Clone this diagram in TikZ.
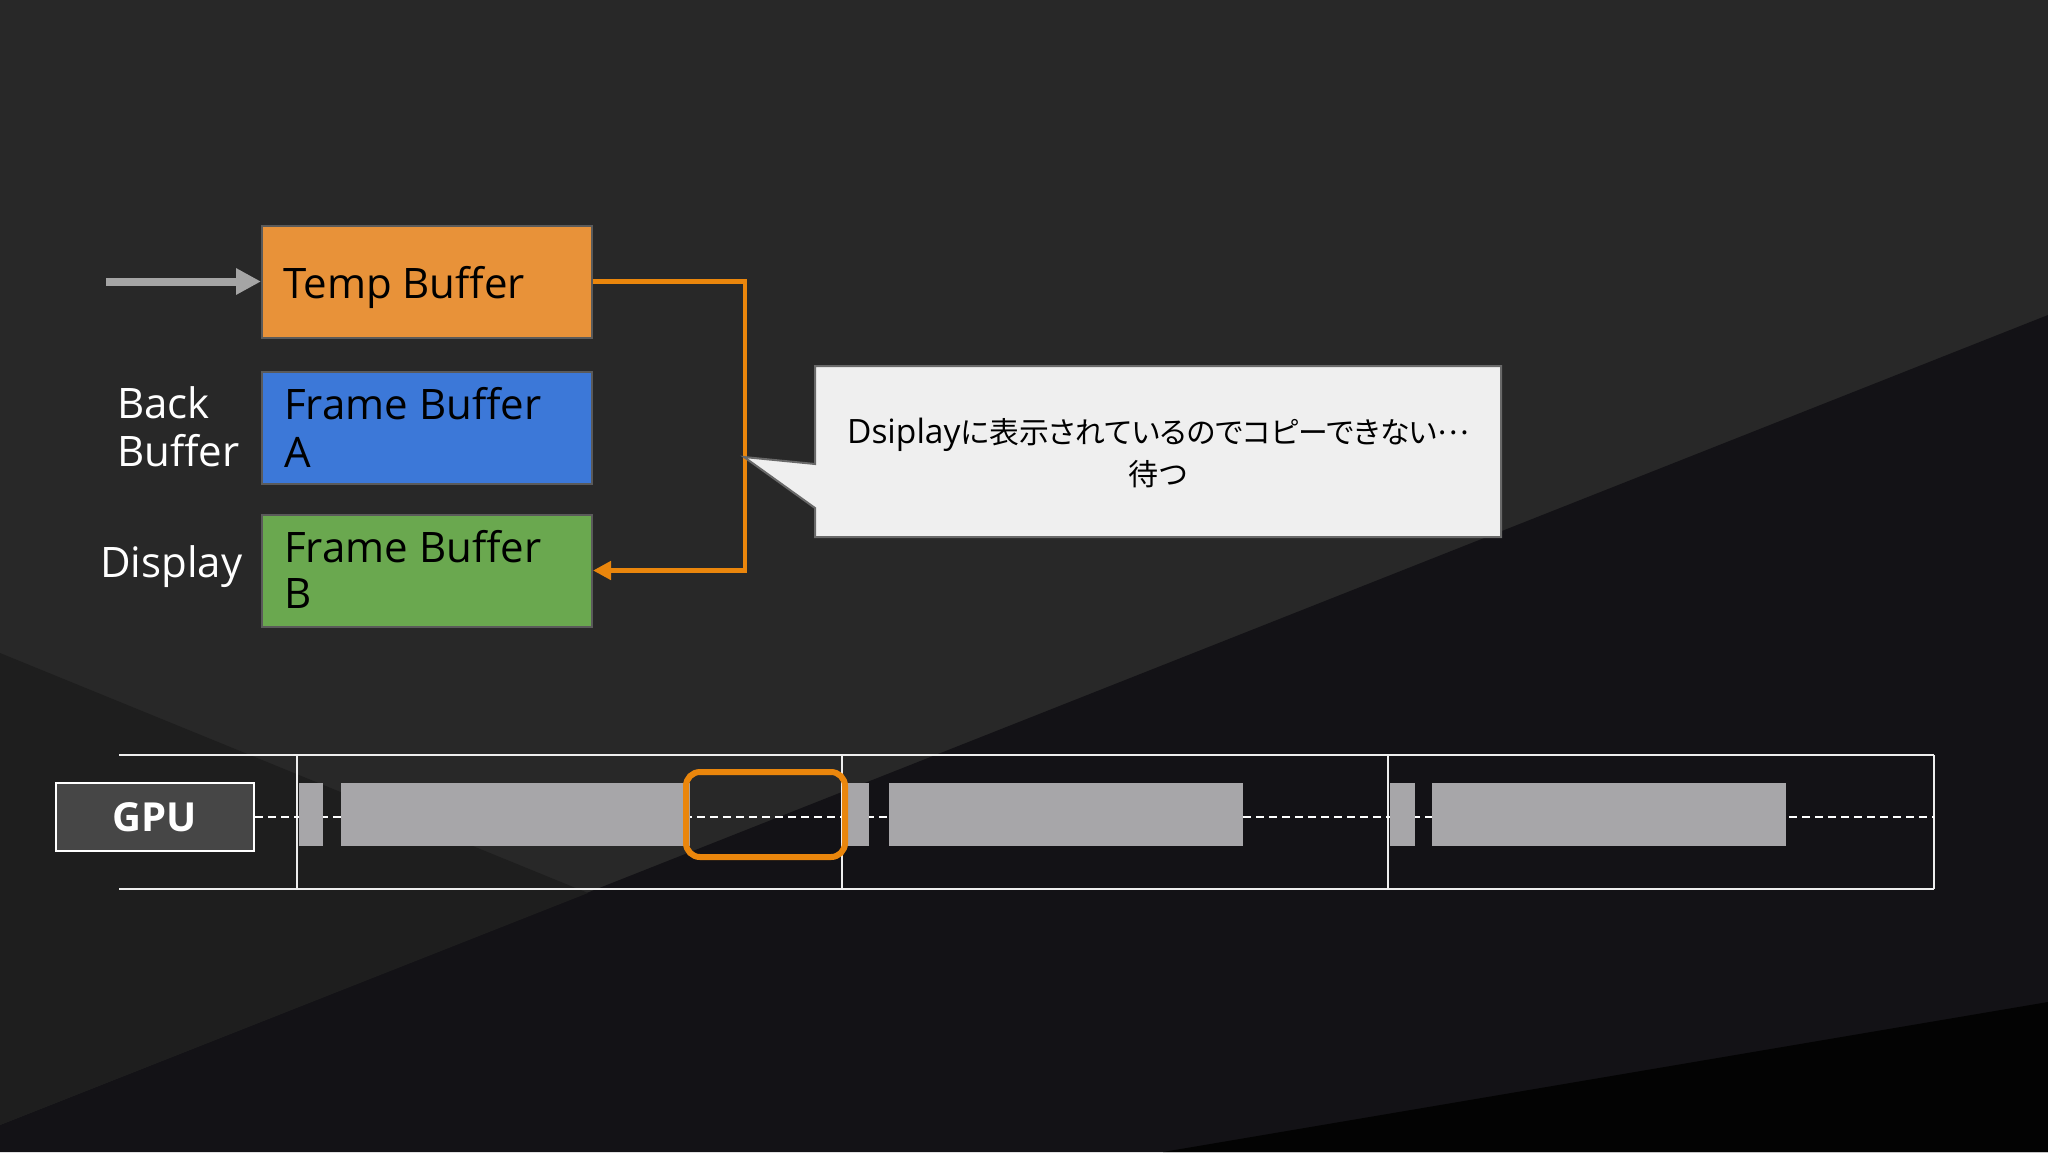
\documentclass[tikz,border=0pt]{standalone}
\usepackage{fontspec}
\setmainfont{Open Sans}
\newfontfamily\jpfont[RawFeature=+palt]{Noto Sans CJK JP}
\usetikzlibrary{arrows.meta}
\definecolor{bgtop}{RGB}{40,40,40}
\definecolor{bgleft}{RGB}{30,30,30}
\definecolor{bgdark}{RGB}{19,18,22}
\definecolor{bgblack}{RGB}{3,3,3}
\definecolor{ctemp}{RGB}{232,146,57}
\definecolor{cblue}{RGB}{60,120,216}
\definecolor{cgreen}{RGB}{106,168,79}
\definecolor{boxborder}{RGB}{90,90,90}
\definecolor{corange}{RGB}{234,134,12}
\definecolor{carrow}{RGB}{165,165,165}
\definecolor{cnote}{RGB}{239,239,239}
\definecolor{cnoteborder}{RGB}{105,105,105}
\definecolor{cblock}{RGB}{167,166,169}
\definecolor{cgpu}{RGB}{70,70,70}
\definecolor{cline}{RGB}{238,238,238}
\tikzset{
  bufbox/.style={draw=boxborder, line width=2pt, minimum width=330pt, minimum height=112pt, inner sep=0pt},
  btxt/.style={anchor=base west, inner sep=0pt, text=black, font=\fontsize{42}{48}\selectfont},
  wtxt/.style={anchor=base west, inner sep=0pt, text=white, font=\fontsize{42}{48}\selectfont},
  tline/.style={cline, line width=2.5pt},
  vline/.style={cline, line width=1.5pt},
  gblock/.style={fill=cblock},
}
\begin{document}
\begin{tikzpicture}[x=1pt,y=-1pt]
\useasboundingbox (0,0) rectangle (2048,1152);
% background
\fill[bgtop] (0,0) rectangle (2048,1152);
\fill[bgdark] (2048,315) -- (2048,1152) -- (0,1152) -- (0,1125) -- cycle;
\fill[bgleft] (0,653) -- (588,893) -- (0,1125) -- cycle;
\fill[bgblack] (2048,1002) -- (2048,1152) -- (1163,1152) -- cycle;

% buffers
\node[bufbox, fill=ctemp] (temp) at (427,281.5) {};
\node[bufbox, fill=cblue] (fba) at (427,428) {};
\node[bufbox, fill=cgreen] (fbb) at (427,570.5) {};
\node[btxt] (tempT) at (283,298) {Temp Buffer};
\node[btxt] (fbaT1) at (284,419) {Frame Buffer};
\node[btxt] (fbaT2) at (284,467) {A};
\node[btxt] (fbbT1) at (284,562) {Frame Buffer};
\node[btxt] (fbbT2) at (284,608) {B};
\node[wtxt] (backL1) at (117,418) {Back};
\node[wtxt] (backL2) at (117,466) {Buffer};
\node[wtxt] (dispL) at (100,577) {Display};

% arrows
\coordinate (ain) at (106,281.5);
\draw[carrow, line width=8pt, -{Triangle[length=25pt,width=25pt]}] (ain) -- (temp.west);
\draw[corange, line width=4.5pt, -{Triangle[length=18pt,width=18pt]}] (temp.east) -- ++(152,0) |- (fbb.east);

% callout
\coordinate (tip) at (744,457);
\fill[cnote, draw=cnoteborder, line width=2pt] (815,366) -- (1501,366) -- (1501,537) -- (815,537) -- (815,508) -- (tip) -- (815,464) -- cycle;
\node[align=center, inner sep=0pt, text=black, font=\fontsize{33.5}{42}\selectfont] (note) at (1158,453) {Dsiplay{\fontsize{29.8}{42}\selectfont\jpfont に表示されているのでコピーできない\raisebox{0.3em}{…}}\\{\fontsize{30}{42}\selectfont\jpfont 待つ}};

% timeline
\draw[tline] (119,755) -- (1934,755);
\draw[tline] (119,889) -- (1934,889);
\draw[vline] (297,755) -- (297,889);
\draw[vline] (842,755) -- (842,889);
\draw[vline] (1388,755) -- (1388,889);
\draw[cline, line width=2pt] (1934,755) -- (1934,889);
\node[draw=white, line width=2pt, fill=cgpu, minimum width=198pt, minimum height=68pt, inner sep=0pt, text=white, font=\fontsize{40}{48}\selectfont\bfseries] (gpu) at (155,817) {GPU};
\draw[white, line width=2pt, dash pattern=on 8pt off 5pt] (gpu.east) -- (1934,817);
\fill[gblock] (299,783) rectangle (323,846);
\fill[gblock] (341,783) rectangle (690,846);
\fill[gblock] (843,783) rectangle (869,846);
\fill[gblock] (889,783) rectangle (1243,846);
\fill[gblock] (1390,783) rectangle (1415,846);
\fill[gblock] (1432,783) rectangle (1786,846);
\draw[corange, line width=6pt, rounded corners=14pt] (686,772) rectangle (845,857);
\end{tikzpicture}
\end{document}
